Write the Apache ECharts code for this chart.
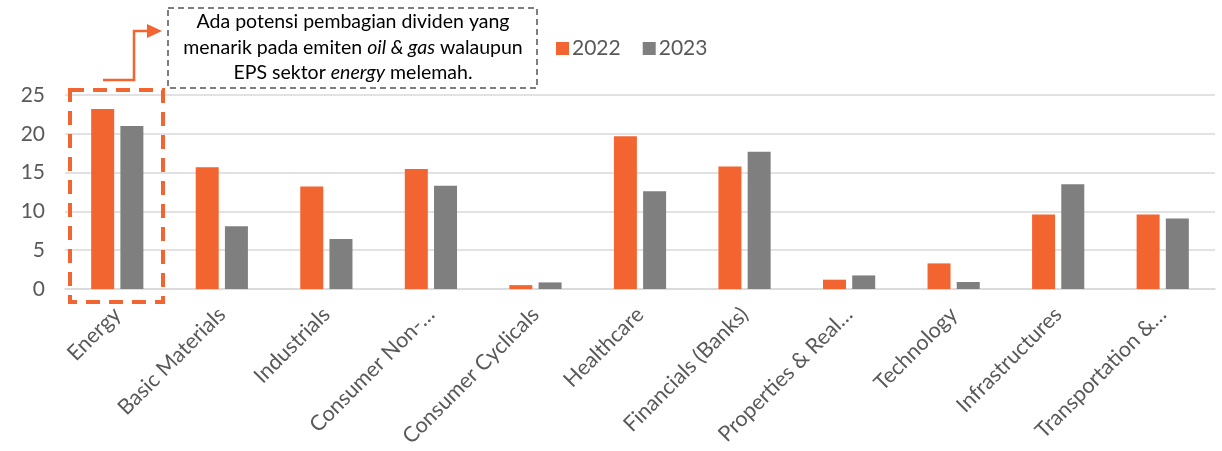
<!DOCTYPE html>
<html><head><meta charset="utf-8">
<script src="https://cdn.jsdelivr.net/npm/echarts@6/dist/echarts.min.js"></script>
<style>html,body{margin:0;padding:0;background:#fff}#c{width:1222px;height:451px}</style>
</head><body><div id="c"></div>
<script>
const categories = ["Energy","Basic Materials","Industrials","Consumer Non-…","Consumer Cyclicals","Healthcare","Financials (Banks)","Properties & Real…","Technology","Infrastructures","Transportation &…"];
const values2022 = [23.2,15.7,13.2,15.45,0.5,19.7,15.8,1.2,3.3,9.6,9.6];
const values2023 = [21.0,8.1,6.45,13.3,0.85,12.6,17.7,1.75,0.9,13.5,9.1];
const yTicks = {min:0,max:25,interval:5};
const ORANGE = '#F26531', GREY = '#7F7F7F', FONT = 'Lato';

const chart = echarts.init(document.getElementById('c'), null, {renderer:'canvas'});
chart.setOption({
  animation:false,
  textStyle:{fontFamily:FONT},
  grid:{left:65,right:7,top:95,bottom:162,containLabel:false},
  legend:{
    left:551, top:33, itemWidth:13, itemHeight:13, itemGap:22,
    icon:'rect',
    textStyle:{fontSize:21,color:'#595959',fontFamily:FONT,padding:[0,0,0,-2]},
    data:['2022','2023']
  },
  xAxis:{
    type:'category', data:categories,
    axisLine:{show:true,lineStyle:{color:'#D9D9D9',width:1.5}},
    axisTick:{show:false},
    axisLabel:{rotate:45,fontSize:21.5,color:'#595959',margin:22,interval:0,fontFamily:FONT}
  },
  yAxis:{
    type:'value', min:yTicks.min, max:yTicks.max, interval:yTicks.interval,
    axisLine:{show:false}, axisTick:{show:false},
    splitLine:{lineStyle:{color:'#D9D9D9',width:1.5}},
    axisLabel:{fontSize:21,color:'#595959',margin:20,fontFamily:FONT}
  },
  series:[
    {name:'2022',type:'bar',data:values2022,barWidth:23,barGap:'27%',itemStyle:{color:ORANGE}},
    {name:'2023',type:'bar',data:values2023,barWidth:23,barGap:'27%',itemStyle:{color:GREY}}
  ],
  graphic:[
    {type:'rect',shape:{x:70,y:90,width:93,height:212},style:{fill:null,stroke:ORANGE,lineWidth:4,lineDash:[14,9]},z:100},
    {type:'polyline',shape:{points:[[103,80],[134,80],[134,31],[150,31]]},style:{fill:null,stroke:ORANGE,lineWidth:2.5},z:100},
    {type:'polygon',shape:{points:[[147,24],[162,31],[147,38]]},style:{fill:ORANGE},z:100},
    {type:'rect',shape:{x:168,y:8,width:369,height:80},style:{fill:'#fff',stroke:'#7F7F7F',lineWidth:2,lineDash:[6,4]},z:100},
    {type:'text',x:353,y:9,z:101,style:{
      text:'Ada potensi pembagian dividen yang\nmenarik pada emiten {i|oil & gas} walaupun\nEPS sektor {i|energy} melemah.',
      align:'center',verticalAlign:'top',fontSize:19.5,lineHeight:25.5,fill:'#000',fontFamily:FONT,
      rich:{i:{fontStyle:'italic',fontSize:19.5,fill:'#000',fontFamily:FONT,lineHeight:25.5}}
    }}
  ]
});
</script></body></html>
